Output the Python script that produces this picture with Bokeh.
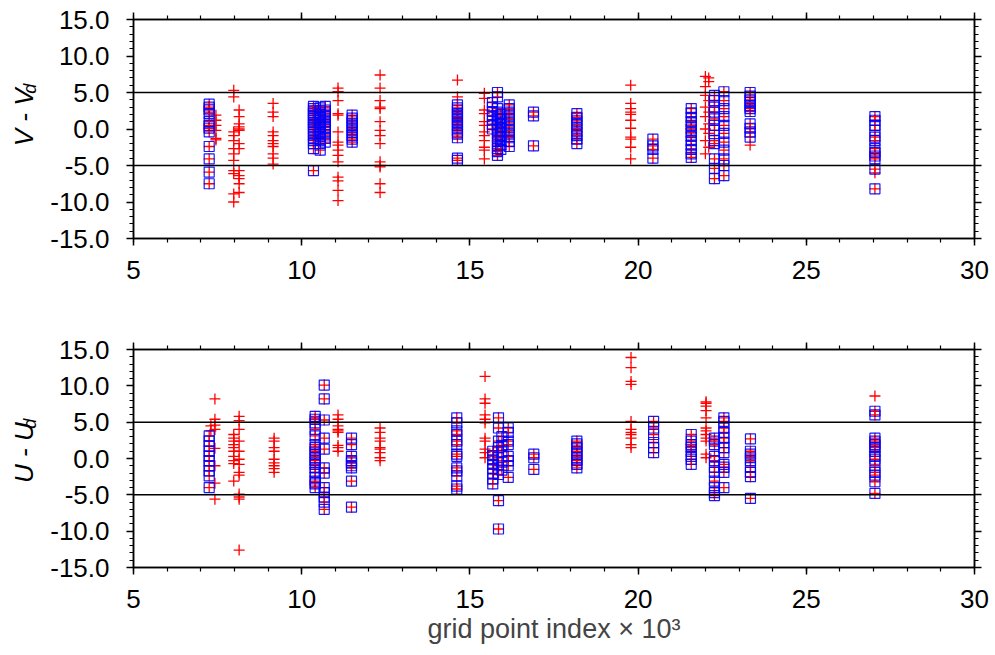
from math import pi
from bokeh.plotting import figure
from bokeh.layouts import column, row
from bokeh.models import (LinearAxis, SingleIntervalTicker, NumeralTickFormatter,
                          CustomJSTickFormatter, Span, Range1d)
from bokeh.core.properties import value
from bokeh.embed import file_html
from bokeh.resources import INLINE

# ---------------- data (x in units of 10^3 grid points) ----------------
# Top panel: V - Vd   (crosses only / boxed points, grouped by grid-point column)
v_cross_cols = [7.45, 7.98, 8.14, 9.15, 11.08, 12.33, 14.63, 15.43, 19.78, 22.0, 22.1, 23.33, 27.04]
v_cross_vals = [
    [1.9, 1.2, 0.5, -0.2, -1.3, -1.5],
    [5.3, 4.4, -0.4, -0.9, -1.6, -2.7, -3.4, -4.3, -5.7, -6.1, -8.9, -10.0],
    [2.6, 1.7, 0.7, 0.3, 0.0, -0.2, -2.0, -2.7, -5.7, -6.4, -6.8, -7.5, -8.7],
    [3.5, 2.3, 1.7, -0.4, -0.9, -1.6, -2.0, -2.4, -3.4, -4.0, -4.8],
    [5.6, 5.1, 3.9, 2.1, 1.9, -0.4, -1.8, -2.2, -2.9, -3.6, -4.5, -6.6, -7.1, -8.4, -9.8],
    [7.4, 5.6, 3.9, 3.0, 2.8, 1.0, -0.2, -0.9, -2.0, -4.5, -5.0, -5.2, -7.5, -8.7],
    [6.7, 4.4],
    [4.9, 4.2, 2.6, 2.1, 1.0, 0.5, -0.4, -0.9, -1.6, -2.5, -2.9, -4.1],
    [6.0, 3.5, 2.8, 2.3, 2.0, 1.2, 0.1, -1.1, -1.4, -2.5, -4.1],
    [7.2, 5.8, 4.6, 3.0, 1.7, 0.0, -1.6, -3.4],
    [7.0, 6.5, 3.9, 2.3, 0.7, -0.6, -2.5],
    [-2.2],
    [-6.0],
]
v_box_cols = [7.25, 10.35, 10.55, 10.7, 11.5, 14.63, 15.67, 15.82, 15.92, 16.17, 16.89,
              18.18, 20.44, 21.58, 22.27, 22.55, 23.33, 27.04]
v_box_vals = [
    [3.4, 3.0, 2.6, 2.1, 1.0, 0.5, 0.1, -0.4, -2.4, -4.1, -5.9, -7.5],
    [3.1, 2.8, 2.5, 2.2, 1.9, 1.5, 1.2, 0.9, 0.6, 0.3, 0.0, -0.4, -0.8, -1.2, -1.6, -2.0, -2.7, -5.7],
    [2.9, 2.5, 2.0, 1.6, 1.2, 0.8, 0.4, 0.0, -0.5, -1.0, -1.5, -2.0, -2.9],
    [3.1, 2.6, 2.2, 1.8, 1.4, 1.0, 0.6, 0.2, -0.3, -0.8, -1.3, -1.8],
    [1.9, 1.5, 1.1, 0.7, 0.3, -0.1, -0.5, -0.9, -1.4, -1.8],
    [3.3, 2.9, 2.5, 2.1, 1.7, 1.3, 0.9, 0.5, 0.1, -0.3, -0.7, -1.2, -4.0, -4.3],
    [3.6, 3.0, 2.4, 1.8, 1.2, 0.6, 0.0],
    [5.0, 4.4, 2.8, 2.3, 1.8, 1.3, 0.8, 0.3, -0.2, -0.7, -1.2, -1.7, -2.2, -2.7, -3.1, -3.6],
    [2.0, 1.4, 0.8, 0.2, -0.4, -1.0, -1.6, -2.2, -2.8],
    [3.3, 2.8, 2.3, 1.8, 1.3, 0.8, 0.3, -0.2, -0.7, -1.2, -1.7, -2.4],
    [2.3, 1.8, -2.3],
    [2.1, 1.6, 1.1, 0.6, 0.1, -0.4, -0.9, -1.4, -2.0],
    [-1.4, -2.3, -2.8, -4.0],
    [2.8, 2.2, 1.6, 1.0, 0.5, 0.0, -0.5, -1.0, -1.6, -2.2, -2.8, -3.4, -3.9],
    [4.6, 3.9, 3.0, 2.3, 1.4, 0.5, -0.2, -1.6, -2.0, -4.1, -5.4, -6.8],
    [5.1, 3.9, 2.8, 1.7, 0.5, -0.6, -1.8, -2.9, -4.1, -5.0, -6.4],
    [5.0, 4.5, 4.0, 3.6, 3.2, 2.8, 2.4, 0.7, 0.1, -0.4, -1.1],
    [1.7, 1.2, 0.5, -0.2, -1.1, -1.6, -2.7, -3.2, -3.7, -4.1, -5.5, -8.2],
]

# Bottom panel: U - Ud
u_cross_cols = [7.3, 7.42, 7.98, 8.14, 9.18, 11.08, 12.33, 15.45, 19.79, 22.02, 27.04]
u_cross_vals = [
    [4.5, 3.8],
    [8.2, 5.4, 4.6, 4.0, 1.4, -1.0, -3.4, -5.6],
    [3.3, 2.8, 2.4, 1.9, 1.5, 1.0, 0.3, -0.3, -0.7, -3.1],
    [5.8, 5.2, 4.0, 2.4, 1.0, -0.1, -0.8, -1.9, -2.3, -4.9, -5.3, -5.6, -12.6],
    [2.8, 2.4, 1.5, 1.0, -0.1, -0.6, -1.0, -1.4, -1.9],
    [6.0, 5.4, 4.5, 4.0, 3.8, 3.6, 1.8, 1.5, 1.0],
    [4.2, 3.6, 2.8, 2.4, 1.5, 1.3, 0.8, 0.1, -0.3],
    [11.3, 8.2, 7.6, 6.0, 5.4, 4.9, 2.8, 2.4, 1.3, 0.8, 0.1],
    [13.9, 12.5, 10.6, 10.2, 5.1, 4.0, 3.6, 3.3, 2.8, 1.9, 1.5],
    [7.8, 7.6, 7.2, 6.6, 5.6, 4.2, 3.8, 3.3, 2.8, 2.4, 0.6, 0.1],
    [8.6],
]
u_box_cols = [7.25, 10.4, 10.67, 11.48, 14.61, 15.68, 15.85, 15.95, 16.14, 16.9, 18.18,
              20.46, 21.58, 22.27, 22.55, 23.34, 27.04]
u_box_vals = [
    [3.1, 2.4, 1.7, 1.0, 0.3, -0.3, -1.0, -1.7, -2.4, -4.0],
    [5.8, 5.4, 4.9, 4.0, 3.1, 1.9, 1.5, 1.0, 0.6, 0.1, -0.3, -0.8, -1.3, -1.9, -2.6, -3.1, -3.5, -4.0],
    [10.1, 8.2, 5.3, 2.8, 1.3, -1.3, -2.0, -4.0, -4.7, -5.3, -6.0, -7.0],
    [2.8, 1.9, 0.3, -0.3, -0.6, -1.0, -1.3, -3.1, -6.7],
    [5.6, 4.9, 3.8, 3.3, 2.4, 1.9, 0.6, 0.3, -1.3, -1.7, -2.4, -3.8, -4.2],
    [1.0, 0.4, -0.2, -0.8, -1.4, -2.0, -2.8, -3.5],
    [5.6, 4.2, 2.4, 1.5, 0.1, -1.0, -2.2, -5.8, -9.7],
    [3.0, 1.8, 0.9, -0.5, -1.6],
    [4.2, 3.6, 2.4, 1.9, 0.3, -0.3, -1.0, -2.6],
    [0.6, 0.1, -1.5],
    [2.4, 2.0, 1.5, 1.0, 0.6, 0.1, -0.3, -0.8, -1.3],
    [5.1, 4.2, 3.3, 2.2, 1.5, 0.8],
    [3.3, 2.4, 1.9, 1.5, 1.0, 0.3, -0.1, -0.8],
    [2.8, 2.4, 1.9, 0.3, -0.3, -1.2, -1.9, -3.1, -4.0, -4.7, -5.1],
    [5.6, 5.1, 4.2, 3.6, 2.8, 2.2, 1.5, 0.8, -0.8, -1.2, -1.9, -4.0],
    [2.7, 1.0, 0.6, 0.1, -0.3, -1.2, -1.9, -2.5, -5.5],
    [6.5, 6.0, 2.8, 2.4, 1.9, 1.5, 1.0, 0.3, -0.1, -1.0, -1.9, -2.3, -3.2, -4.8],
]

thresholds = [5.0, -5.0]
x_limits = (5, 30)
y_limits = (-15, 15)
x_title = "grid point index \u00d7 10\u00b3"

FONT = "Liberation Sans"
LABEL_W = 41


def flatten(cols, vals):
    xs, ys = [], []
    for c, v in zip(cols, vals):
        xs.extend([c] * len(v))
        ys.extend(v)
    return xs, ys


def style_axis(ax, labels=True):
    ax.axis_line_width = 1.5
    ax.axis_line_color = "black"
    ax.major_tick_line_width = 1.5
    ax.minor_tick_line_width = 1.2
    ax.major_tick_line_color = "black"
    ax.minor_tick_line_color = "black"
    ax.major_tick_out = 7
    ax.major_tick_in = 0
    ax.minor_tick_out = 4
    ax.minor_tick_in = 0
    ax.major_label_text_font = FONT
    ax.major_label_text_font_size = "26px"
    ax.major_label_text_color = "black"
    if not labels:
        ax.formatter = CustomJSTickFormatter(code="return ''")
        ax.major_label_standoff = 0


def panel(cross_cols, cross_vals, box_cols, box_vals, height, top, bottom, xlabel):
    p = figure(width=995 - LABEL_W, height=height, x_range=Range1d(*x_limits), y_range=Range1d(*y_limits),
               output_backend="svg", toolbar_location=None,
               min_border_left=133 - LABEL_W, min_border_right=21, min_border_top=top, min_border_bottom=bottom)
    p.xgrid.visible = False
    p.ygrid.visible = False
    p.outline_line_color = "black"
    p.outline_line_width = 1.5

    xt = SingleIntervalTicker(interval=5, num_minor_ticks=5)
    yt = SingleIntervalTicker(interval=5, num_minor_ticks=5)
    p.xaxis.ticker = xt
    p.yaxis.ticker = yt
    p.yaxis.formatter = NumeralTickFormatter(format="0.0")
    style_axis(p.xaxis[0])
    style_axis(p.yaxis[0])
    p.yaxis.major_label_standoff = 17
    p.xaxis.major_label_standoff = 15
    if xlabel:
        p.xaxis.axis_label = xlabel
        p.xaxis.axis_label_text_font = FONT
        p.xaxis.axis_label_text_font_size = "27px"
        p.xaxis.axis_label_text_font_style = "normal"
        p.xaxis.axis_label_standoff = 3

    top_ax = LinearAxis(ticker=xt)
    style_axis(top_ax, labels=False)
    p.add_layout(top_ax, "above")
    right_ax = LinearAxis(ticker=yt)
    style_axis(right_ax, labels=False)
    p.add_layout(right_ax, "right")

    for t in thresholds:
        p.add_layout(Span(location=t, dimension="width", line_color="black", line_width=1.5))

    cx, cy = flatten(cross_cols, cross_vals)
    bx, by = flatten(box_cols, box_vals)
    p.scatter(x=cx + bx, y=cy + by, marker="cross", size=11, line_color="#ff0000", line_width=1.3)
    p.scatter(x=bx, y=by, marker="square", size=10, fill_color=None,
              line_color="#0000ff", line_width=1.2, line_alpha=0.9)
    return p


def title_strip(height, main, sub, main_xy, sub_xy):
    # narrow strip holding the rotated y-axis title with its subscript (px coordinates, y from bottom)
    f = figure(width=LABEL_W, height=height, x_range=Range1d(0, LABEL_W), y_range=Range1d(0, height),
               output_backend="svg", toolbar_location=None, x_axis_type=None, y_axis_type=None,
               min_border=0, min_border_left=0, min_border_right=0, min_border_top=0, min_border_bottom=0)
    f.outline_line_color = None
    f.xgrid.visible = False
    f.ygrid.visible = False
    f.text(x=[main_xy[0]], y=[main_xy[1]], text=[main], angle=pi / 2, text_align="center",
           text_baseline="middle", text_font=value(FONT), text_font_size=value("26px"),
           text_font_style=value("italic"), text_color="black")
    f.text(x=[sub_xy[0]], y=[sub_xy[1]], text=[sub], angle=pi / 2, text_align="center",
           text_baseline="middle", text_font=value(FONT), text_font_size=value("18px"),
           text_font_style=value("italic"), text_color="black")
    return f


p1 = panel(v_cross_cols, v_cross_vals, v_box_cols, v_box_vals, 300, 19, 62, None)
p2 = panel(u_cross_cols, u_cross_vals, u_box_cols, u_box_vals, 355, 49, 88, x_title)
t1 = title_strip(300, "V - V", "d", (23, 166), (29.5, 205))
t2 = title_strip(355, "U - U", "d", (23, 187), (29.5, 234))

layout = column(row(t1, p1, spacing=0), row(t2, p2, spacing=0), spacing=0)
open("out.html", "w").write(file_html(layout, INLINE))
